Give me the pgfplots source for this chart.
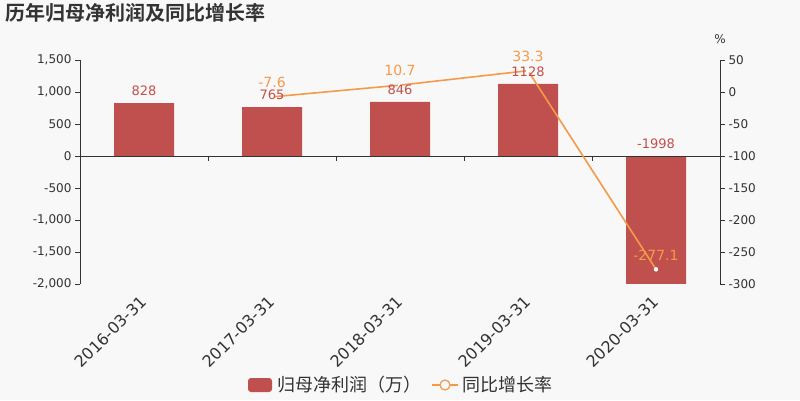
\documentclass[border=0pt]{standalone}
\usepackage{fontspec}
\setmainfont{DejaVu Sans}
\newfontfamily\cjk{Noto Sans CJK SC}
\newfontfamily\cjkb{Noto Sans CJK SC Bold}
\usepackage{pgfplots}
\pgfplotsset{compat=1.18}
\definecolor{bg}{HTML}{F8F8F8}
\definecolor{barred}{HTML}{C0504D}
\definecolor{lineor}{HTML}{F59A4B}
\definecolor{txt}{HTML}{333333}
\begin{document}
\begin{tikzpicture}[x=1pt,y=1pt]
\fill[bg] (0,0) rectangle (800,400);
\begin{axis}[
  at={(80pt,116pt)}, anchor=south west, scale only axis,
  width=640pt, height=224pt,
  xmin=-0.5, xmax=4.5, ymin=-2000, ymax=1500,
  ytick={-2000,-1500,...,1500},
  axis y line*=left, axis x line*=bottom,
  x axis line style={draw=none},
  y axis line style={draw=txt, line width=0.8pt},
  xtick={0,1,2,3,4},
  xticklabels={2016-03-31,2017-03-31,2018-03-31,2019-03-31,2020-03-31},
  xtick style={draw=none},
  ytick style={draw=txt, line width=0.8pt},
  major tick length=5pt,
  tick align=outside,
  xticklabel style={rotate=45, anchor=north east, font=\fontsize{16}{16}\selectfont, text=txt, xshift=-4pt, yshift=3pt},
  yticklabel style={font=\fontsize{12}{12}\selectfont, text=txt},
  /pgf/number format/assume math mode=true,
  /pgf/number format/.cd, 1000 sep={,},
]
\addplot[ybar, bar width=60pt, fill=barred, draw=none] coordinates {(0,828)(1,765)(2,846)(3,1128)(4,-1998)};
\draw[txt, line width=0.8pt] (axis cs:-0.5,0) -- (axis cs:4.5,0);
\draw[txt, line width=0.8pt] (axis cs:0.5,0) -- ([yshift=-5pt]axis cs:0.5,0);
\draw[txt, line width=0.8pt] (axis cs:1.5,0) -- ([yshift=-5pt]axis cs:1.5,0);
\draw[txt, line width=0.8pt] (axis cs:2.5,0) -- ([yshift=-5pt]axis cs:2.5,0);
\draw[txt, line width=0.8pt] (axis cs:3.5,0) -- ([yshift=-5pt]axis cs:3.5,0);
\end{axis}
\begin{axis}[
  at={(80pt,116pt)}, anchor=south west, scale only axis,
  width=640pt, height=224pt,
  xmin=-0.5, xmax=4.5, ymin=-300, ymax=50,
  ytick={-300,-250,...,50},
  axis y line*=right, axis x line=none,
  y axis line style={draw=txt, line width=0.8pt},
  ytick style={draw=txt, line width=0.8pt},
  major tick length=5pt,
  tick align=outside,
  yticklabel style={font=\fontsize{12}{12}\selectfont, text=txt},
  /pgf/number format/assume math mode=true,
]
\addplot[lineor, line width=1.6pt, mark=*, mark size=2pt, mark options={fill=white, draw=white, line width=0.4pt}] coordinates {(1,-7.6)(2,10.7)(3,33.3)(4,-277.1)};
\end{axis}
% data labels
\begin{axis}[
  at={(80pt,116pt)}, anchor=south west, scale only axis,
  width=640pt, height=224pt,
  xmin=-0.5, xmax=4.5, ymin=-2000, ymax=1500,
  hide axis, clip=false,
]
\node[above, text=barred, font=\fontsize{13}{13}\selectfont, inner sep=2pt, yshift=5pt] at (axis cs:0,828) {828};
\node[above, text=barred, font=\fontsize{13}{13}\selectfont, inner sep=2pt, yshift=5pt] at (axis cs:1,765) {765};
\node[above, text=barred, font=\fontsize{13}{13}\selectfont, inner sep=2pt, yshift=5pt] at (axis cs:2,846) {846};
\node[above, text=barred, font=\fontsize{13}{13}\selectfont, inner sep=2pt, yshift=5pt] at (axis cs:3,1128) {1128};
\node[above, text=barred, font=\fontsize{13}{13}\selectfont, inner sep=2pt, yshift=5pt] at (axis cs:4,0) {-1998};
\end{axis}
\begin{axis}[
  at={(80pt,116pt)}, anchor=south west, scale only axis,
  width=640pt, height=224pt,
  xmin=-0.5, xmax=4.5, ymin=-300, ymax=50,
  hide axis, clip=false,
]
\node[above, text=lineor, font=\fontsize{14}{14}\selectfont, inner sep=2pt, yshift=7pt] at (axis cs:1,-7.6) {-7.6};
\node[above, text=lineor, font=\fontsize{14}{14}\selectfont, inner sep=2pt, yshift=7pt] at (axis cs:2,10.7) {10.7};
\node[above, text=lineor, font=\fontsize{14}{14}\selectfont, inner sep=2pt, yshift=7pt] at (axis cs:3,33.3) {33.3};
\node[above, text=lineor, font=\fontsize{14}{14}\selectfont, inner sep=2pt, yshift=7pt] at (axis cs:4,-277.1) {-277.1};
\end{axis}
% title and unit
\node[anchor=west, text=txt, font=\cjkb\fontsize{20}{20}\selectfont, inner sep=0pt] at (5,387) {历年归母净利润及同比增长率};
\node[text=txt, font=\fontsize{12}{12}\selectfont, inner sep=0pt] at (720,361) {\%};
% legend
\fill[barred, rounded corners=3pt] (248,8) rectangle (272,22);
\node[anchor=west, text=txt, font=\cjk\fontsize{18}{18}\selectfont, inner sep=0pt] at (277,15) {归母净利润（万）};
\draw[lineor, line width=1.2pt] (432,15) -- (458,15);
\draw[lineor, fill=bg, line width=1.2pt] (445,15) circle (5);
\node[anchor=west, text=txt, font=\cjk\fontsize{18}{18}\selectfont, inner sep=0pt] at (462,15) {同比增长率};
\end{tikzpicture}
\end{document}
